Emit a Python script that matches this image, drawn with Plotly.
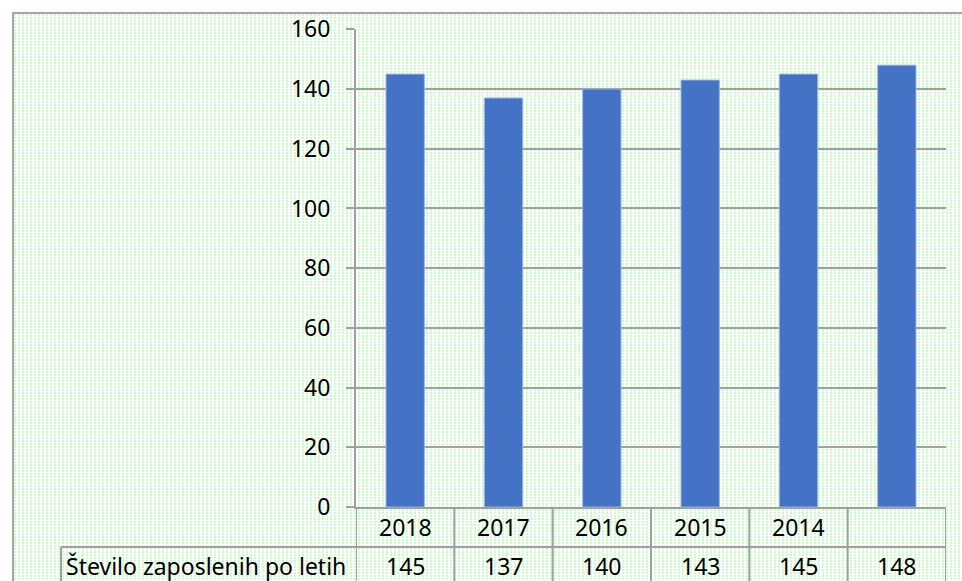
import zlib, struct, base64
import plotly.graph_objects as go

# ---- data ----
categories = ["2018", "2017", "2016", "2015", "2014", ""]
values = [145, 137, 140, 143, 145, 148]
row_label = "Število zaposlenih po letih"
y_ticks = [0, 20, 40, 60, 80, 100, 120, 140, 160]

W, H = 962, 581
FONT = "Noto Sans"

# ---- dotted background tile (style only) ----
def make_png(w, h):
    g = bytes((205, 250, 205))
    wpx = bytes((255, 255, 255))
    dot_row = b"".join(g if (x % 4) < 2 else wpx for x in range(w))
    blank = wpx * w
    raw = b"".join(b"\x00" + (dot_row if (y % 3) < 2 else blank) for y in range(h))
    def chunk(t, d):
        c = struct.pack(">I", len(d)) + t + d
        return c + struct.pack(">I", zlib.crc32(t + d) & 0xffffffff)
    png = b"\x89PNG\r\n\x1a\n" + chunk(b"IHDR", struct.pack(">IIBBBBB", w, h, 8, 2, 0, 0, 0)) \
        + chunk(b"IDAT", zlib.compress(raw, 9)) + chunk(b"IEND", b"")
    return "data:image/png;base64," + base64.b64encode(png).decode()

bg_w, bg_h = W - 14, H - 14
bg = make_png(bg_w, bg_h)

# ---- geometry (pixels) ----
ax_left, ax_right = 356, 946
y_top_px, y_zero_px = 29.3, 507
row_div_px = 547
label_left_px = 61

def py(p):  # pixel y -> paper
    return 1 - p / H

def px(p):
    return p / W

xs = list(range(len(categories)))

fig = go.Figure()
fig.add_trace(go.Bar(
    x=xs, y=values, width=0.39,
    marker=dict(color="#4472C4", line=dict(color="#9db3e0", width=1)),
    hoverinfo="y",
))

shapes = []
grid_col = "#a0a0a0"
# outer border
shapes.append(dict(type="rect", xref="paper", yref="paper",
                   x0=px(13), x1=px(W + 20), y0=py(H + 20), y1=py(13),
                   line=dict(color="#a6a6a6", width=2), layer="above"))
# table vertical lines (category boundaries)
for i in range(len(categories) + 1):
    shapes.append(dict(type="line", xref="x", yref="paper",
                       x0=i - 0.5, x1=i - 0.5, y0=py(H + 10), y1=py(y_zero_px),
                       line=dict(color=grid_col, width=2)))
# row divider
shapes.append(dict(type="line", xref="paper", yref="paper",
                   x0=px(label_left_px), x1=px(ax_right), y0=py(row_div_px), y1=py(row_div_px),
                   line=dict(color=grid_col, width=2)))
# label cell left edge
shapes.append(dict(type="line", xref="paper", yref="paper",
                   x0=px(label_left_px), x1=px(label_left_px), y0=py(H + 10), y1=py(row_div_px),
                   line=dict(color=grid_col, width=2)))

annotations = []
for i, c in enumerate(categories):
    if c:
        annotations.append(dict(x=i, xref="x", y=py(527), yref="paper", text=c,
                                showarrow=False, font=dict(family=FONT, size=23, color="#000"),
                                xanchor="center", yanchor="middle"))
    annotations.append(dict(x=i, xref="x", y=py(566), yref="paper", text=str(values[i]),
                            showarrow=False, font=dict(family=FONT, size=23, color="#000"),
                            xanchor="center", yanchor="middle"))
annotations.append(dict(x=px(64), xref="paper", y=py(566), yref="paper", text=row_label,
                        showarrow=False, font=dict(family=FONT, size=23, color="#000"),
                        xanchor="left", yanchor="middle"))

fig.update_layout(
    width=W, height=H,
    margin=dict(l=0, r=0, t=0, b=0, autoexpand=False),
    paper_bgcolor="white",
    plot_bgcolor="rgba(0,0,0,0)",
    showlegend=False,
    images=[dict(source=bg, xref="paper", yref="paper",
                 x=px(14), y=py(14), sizex=bg_w / W, sizey=bg_h / H,
                 xanchor="left", yanchor="top", sizing="stretch", layer="below")],
    xaxis=dict(domain=[px(ax_left), px(ax_right)], range=[-0.5, len(categories) - 0.5],
               showticklabels=False, ticks="", showgrid=False, zeroline=False,
               automargin=False,
               showline=True, linecolor=grid_col, linewidth=2, fixedrange=True),
    yaxis=dict(domain=[py(y_zero_px), py(y_top_px)], range=[0, 160],
               tickvals=y_ticks, ticktext=[str(v) for v in y_ticks],
               ticks="outside", ticklen=8, tickwidth=2, tickcolor=grid_col,
               ticklabelstandoff=11, automargin=False,
               showgrid=True, gridcolor=grid_col, gridwidth=2, zeroline=False,
               showline=True, linecolor=grid_col, linewidth=2,
               tickfont=dict(family=FONT, size=23, color="#000"), fixedrange=True),
    shapes=shapes,
    annotations=annotations,
)

fig.write_html("out.html")
